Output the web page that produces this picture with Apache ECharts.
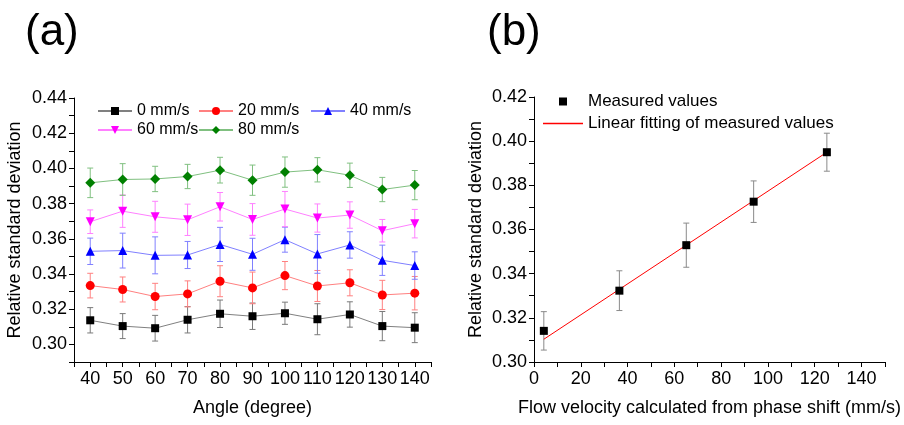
<!DOCTYPE html>
<html><head><meta charset="utf-8">
<script src="https://cdn.jsdelivr.net/npm/echarts@6/dist/echarts.min.js"></script>
<style>html,body{margin:0;padding:0;background:#fff}#c{width:904px;height:425px}</style>
</head><body><div id="c"></div>
<script>
// ---- Panel (a) data ----
const angles = [40, 50, 60, 70, 80, 90, 100, 110, 120, 130, 140];
const v0  = [0.3137, 0.3104, 0.3092, 0.3140, 0.3174, 0.3160, 0.3177, 0.3143, 0.3170, 0.3104, 0.3095];
const e0  = [0.0072, 0.0071, 0.0073, 0.0075, 0.0078, 0.0075, 0.0063, 0.0088, 0.0072, 0.0083, 0.0085];
const v20 = [0.3334, 0.3312, 0.3272, 0.3287, 0.3359, 0.3321, 0.3391, 0.3332, 0.3350, 0.3281, 0.3291];
const e20 = [0.0070, 0.0071, 0.0075, 0.0074, 0.0088, 0.0090, 0.0080, 0.0088, 0.0074, 0.0083, 0.0095];
const v40 = [0.3529, 0.3533, 0.3506, 0.3508, 0.3568, 0.3512, 0.3595, 0.3514, 0.3565, 0.3478, 0.3448];
const e40 = [0.0075, 0.0099, 0.0105, 0.0077, 0.0097, 0.0091, 0.0071, 0.0110, 0.0075, 0.0086, 0.0078];
const v60 = [0.3697, 0.3757, 0.3725, 0.3708, 0.3782, 0.3710, 0.3769, 0.3718, 0.3735, 0.3646, 0.3686];
const e60 = [0.0067, 0.0092, 0.0088, 0.0089, 0.0081, 0.0090, 0.0100, 0.0080, 0.0075, 0.0064, 0.0081];
const v80 = [0.3918, 0.3937, 0.3940, 0.3954, 0.3990, 0.3933, 0.3979, 0.3992, 0.3961, 0.3880, 0.3905];
const e80 = [0.0084, 0.0090, 0.0072, 0.0069, 0.0073, 0.0086, 0.0086, 0.0069, 0.0069, 0.0069, 0.0083];
const seriesNamesA = ['0 mm/s', '20 mm/s', '40 mm/s', '60 mm/s', '80 mm/s'];

// ---- Panel (b) data ----
const flowX  = [4.2, 36.5, 65.1, 93.9, 125.2];
const rsd    = [0.3141, 0.3323, 0.3529, 0.3726, 0.3950];
const rsdErr = [0.0087, 0.0090, 0.0100, 0.0094, 0.0086];
const fitX   = [4.2, 125.2];
const fitY   = [0.3103, 0.3950];
const seriesNamesB = ['Measured values', 'Linear fitting of measured values'];

const FONT = 'Liberation Sans, Arial, sans-serif';

function pairs(xs, ys) { return xs.map((x, i) => [x, ys[i]]); }
function errData(xs, ys, es) { return xs.map((x, i) => [x, ys[i] - es[i], ys[i] + es[i]]); }

function errRender(color) {
  return function (params, api) {
    const x = api.value(0), lo = api.value(1), hi = api.value(2);
    const pL = api.coord([x, lo]), pH = api.coord([x, hi]);
    const w = 3;
    const st = { stroke: color, lineWidth: 1, fill: null };
    return {
      type: 'group', children: [
        { type: 'line', shape: { x1: pH[0], y1: pH[1], x2: pL[0], y2: pL[1] }, style: st },
        { type: 'line', shape: { x1: pH[0] - w, y1: pH[1], x2: pH[0] + w, y2: pH[1] }, style: st },
        { type: 'line', shape: { x1: pL[0] - w, y1: pL[1], x2: pL[0] + w, y2: pL[1] }, style: st }
      ]
    };
  };
}

const specsA = [
  { v: v0,  e: e0,  mk: '#000000', ln: '#808080', er: '#7a7a7a', sym: 'rect', size: 8, rot: 0 },
  { v: v20, e: e20, mk: '#ff0000', ln: '#ff8080', er: '#ff8080', sym: 'circle', size: 9, rot: 0 },
  { v: v40, e: e40, mk: '#0000ff', ln: '#8080ff', er: '#8080ff', sym: 'triangle', size: 9, rot: 0 },
  { v: v60, e: e60, mk: '#ff00ff', ln: '#ff80ff', er: '#ff80ff', sym: 'triangle', size: 9, rot: 180 },
  { v: v80, e: e80, mk: '#008000', ln: '#80c080', er: '#80c080', sym: 'diamond', size: 10, rot: 0 }
];

const series = [];
specsA.forEach((s, k) => {
  series.push({
    type: 'custom', xAxisIndex: 0, yAxisIndex: 0, z: 1, silent: true,
    renderItem: errRender(s.er), encode: { x: 0, y: [1, 2] },
    data: errData(angles, s.v, s.e)
  });
});
specsA.forEach((s, k) => {
  series.push({
    type: 'line', name: seriesNamesA[k], xAxisIndex: 0, yAxisIndex: 0, z: 3,
    data: pairs(angles, s.v), symbol: s.sym, symbolSize: s.size, symbolRotate: s.rot,
    itemStyle: { color: s.mk }, lineStyle: { color: s.ln, width: 1 }
  });
});
// panel b
series.push({
  type: 'custom', xAxisIndex: 1, yAxisIndex: 1, z: 1, silent: true,
  renderItem: errRender('#8a8a8a'), encode: { x: 0, y: [1, 2] },
  data: errData(flowX, rsd, rsdErr)
});
series.push({
  type: 'line', name: seriesNamesB[1], xAxisIndex: 1, yAxisIndex: 1, z: 2,
  data: pairs(fitX, fitY), symbol: 'none', showSymbol: false,
  lineStyle: { color: '#ff0000', width: 1 }, itemStyle: { color: '#ff0000' }
});
series.push({
  type: 'line', name: seriesNamesB[0], xAxisIndex: 1, yAxisIndex: 1, z: 3,
  data: pairs(flowX, rsd), symbol: 'rect', symbolSize: 8,
  itemStyle: { color: '#000000' }, lineStyle: { opacity: 0, width: 0 }
});

const axisCommon = {
  axisLine: { show: true, onZero: false, lineStyle: { color: '#000', width: 1 } },
  axisTick: { show: true, inside: false, length: 5, lineStyle: { color: '#000' } },
  splitLine: { show: false },
  nameTextStyle: { fontFamily: FONT, fontSize: 18, color: '#000' }
};
function lab(fmt, margin) {
  return { fontFamily: FONT, fontSize: 18, color: '#000', margin: margin, formatter: fmt };
}
const fmtEven2 = v => (Math.round(v * 100) % 2 === 0 ? (Math.round(v * 100) / 100).toFixed(2) : '');
const fmt10 = v => (Math.round(v) % 10 === 0 ? String(Math.round(v)) : '');
const fmt20 = v => (Math.round(v) % 20 === 0 ? String(Math.round(v)) : '');

function legendItem(name, left, top, w, h, fs, icon) {
  const d = icon ? { name: name, icon: icon } : name;
  return {
    data: [d], left: left, top: top, padding: 0, itemWidth: w, itemHeight: h, itemGap: 5,
    textStyle: { fontFamily: FONT, fontSize: fs, color: '#000' }, selectedMode: false
  };
}

const option = {
  animation: false,
  backgroundColor: '#fff',
  title: [
    { text: '(a)', left: 20, top: 6, textStyle: { fontFamily: FONT, fontSize: 44, fontWeight: 'normal', color: '#000' } },
    { text: '(b)', left: 482, top: 6, textStyle: { fontFamily: FONT, fontSize: 44, fontWeight: 'normal', color: '#000' } }
  ],
  legend: [
    legendItem(seriesNamesA[0], 97, 103, 34, 10, 16),
    legendItem(seriesNamesA[1], 198, 103, 34, 10, 16),
    legendItem(seriesNamesA[2], 310, 103, 34, 10, 16),
    legendItem(seriesNamesA[3], 97, 122, 34, 10, 16),
    legendItem(seriesNamesA[4], 198, 122, 34, 10, 16),
    legendItem(seriesNamesB[0], 543, 93, 40, 10, 17),
    legendItem(seriesNamesB[1], 543, 115, 40, 1.5, 17, 'rect')
  ],
  grid: [
    { left: 74, top: 98, width: 357, height: 264 },
    { left: 534, top: 97, width: 359, height: 265 }
  ],
  xAxis: [
    Object.assign({}, axisCommon, {
      type: 'value', gridIndex: 0, min: 35, max: 145, interval: 5,
      name: 'Angle (degree)', nameLocation: 'middle', nameGap: 37,
      axisLabel: lab(fmt10, 8)
    }),
    Object.assign({}, axisCommon, {
      type: 'value', gridIndex: 1, min: 0, max: 150, interval: 10,
      name: 'Flow velocity calculated from phase shift (mm/s)', nameLocation: 'middle', nameGap: 37,
      axisLabel: lab(fmt20, 8)
    })
  ],
  yAxis: [
    Object.assign({}, axisCommon, {
      type: 'value', gridIndex: 0, min: 0.29, max: 0.44, interval: 0.01,
      name: 'Relative standard deviation', nameLocation: 'middle', nameGap: 50,
      axisLabel: lab(fmtEven2, 7)
    }),
    Object.assign({}, axisCommon, {
      type: 'value', gridIndex: 1, min: 0.30, max: 0.42, interval: 0.01,
      name: 'Relative standard deviation', nameLocation: 'middle', nameGap: 48.5,
      axisLabel: lab(fmtEven2, 7)
    })
  ],
  series: series
};

const chart = echarts.init(document.getElementById('c'), null, { renderer: 'canvas' });
chart.setOption(option);
</script>
</body></html>
